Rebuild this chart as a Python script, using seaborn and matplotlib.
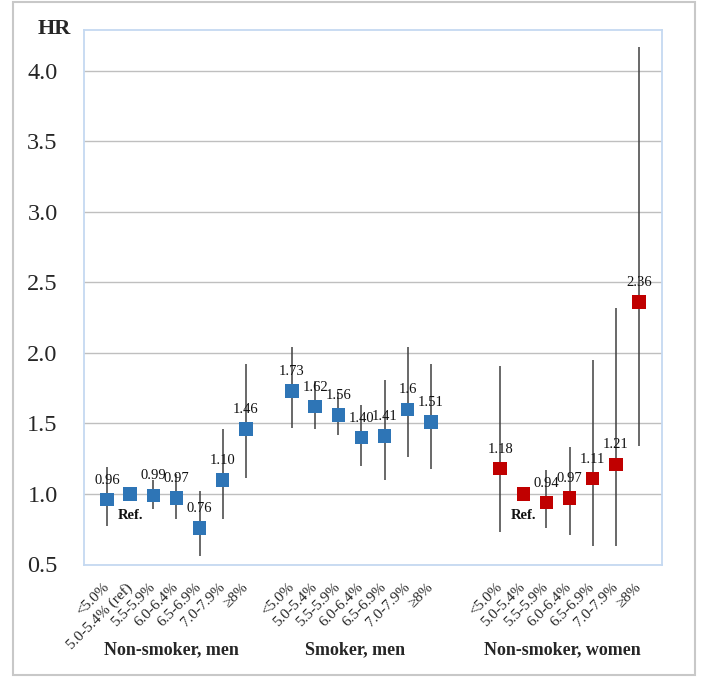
import matplotlib
matplotlib.use("Agg")
import matplotlib.pyplot as plt
import seaborn as sns
import pandas as pd
import numpy as np
from matplotlib.patches import Rectangle

# ---- data ----
group_names = ["Non-smoker, men", "Smoker, men", "Non-smoker, women"]
cats_nsm = ["<5.0%", "5.0-5.4% (ref)", "5.5-5.9%", "6.0-6.4%", "6.5-6.9%", "7.0-7.9%", "≥8%"]
cats_sm = ["<5.0%", "5.0-5.4%", "5.5-5.9%", "6.0-6.4%", "6.5-6.9%", "7.0-7.9%", "≥8%"]
cats_nsw = ["<5.0%", "5.0-5.4%", "5.5-5.9%", "6.0-6.4%", "6.5-6.9%", "7.0-7.9%", "≥8%"]

hr_nsm = [0.96, 1.00, 0.99, 0.97, 0.76, 1.10, 1.46]
lo_nsm = [0.77, np.nan, 0.89, 0.82, 0.56, 0.82, 1.11]
hi_nsm = [1.19, np.nan, 1.10, 1.14, 1.02, 1.46, 1.92]
lab_nsm = ["0.96", "", "0.99", "0.97", "0.76", "1.10", "1.46"]

hr_sm = [1.73, 1.62, 1.56, 1.40, 1.41, 1.60, 1.51]
lo_sm = [1.47, 1.46, 1.42, 1.20, 1.10, 1.26, 1.18]
hi_sm = [2.04, 1.80, 1.72, 1.63, 1.81, 2.04, 1.92]
lab_sm = ["1.73", "1.62", "1.56", "1.40", "1.41", "1.6", "1.51"]

hr_nsw = [1.18, 1.00, 0.94, 0.97, 1.11, 1.21, 2.36]
lo_nsw = [0.73, np.nan, 0.76, 0.71, 0.63, 0.63, 1.34]
hi_nsw = [1.91, np.nan, 1.17, 1.33, 1.95, 2.32, 4.17]
lab_nsw = ["1.18", "", "0.94", "0.97", "1.11", "1.21", "2.36"]

yticks = [0.5, 1.0, 1.5, 2.0, 2.5, 3.0, 3.5, 4.0]

# ---- layout ----
group_start = [0, 8, 17]
group_colors = {"Non-smoker, men": "#2E75B6", "Smoker, men": "#2E75B6", "Non-smoker, women": "#C00000"}

rows = []
for g, start, cats, hr, lo, hi, lab in zip(
        group_names, group_start,
        [cats_nsm, cats_sm, cats_nsw],
        [hr_nsm, hr_sm, hr_nsw],
        [lo_nsm, lo_sm, lo_nsw],
        [hi_nsm, hi_sm, hi_nsw],
        [lab_nsm, lab_sm, lab_nsw]):
    for i, c in enumerate(cats):
        rows.append(dict(group=g, cat=c, pos=start + i, hr=hr[i], lo=lo[i], hi=hi[i], lab=lab[i]))
df = pd.DataFrame(rows)

sns.set_style("white")
plt.rcParams["font.family"] = ["Liberation Serif", "DejaVu Serif"]

fig = plt.figure(figsize=(7.22, 6.82), dpi=100)
ax = fig.add_axes([84 / 722, 1 - 564.5 / 682, (662 - 84) / 722, (564.5 - 30) / 682])

# error bars
ci = df.dropna(subset=["lo"])
ax.vlines(ci["pos"], ci["lo"], ci["hi"], color="#404040", lw=1.1, zorder=2)

# markers
sns.scatterplot(data=df, x="pos", y="hr", hue="group", palette=group_colors,
                marker="s", s=95, linewidth=0, legend=False, ax=ax, zorder=3)

# value labels
for _, r in df.iterrows():
    if r["lab"]:
        ax.annotate(r["lab"], (r["pos"], r["hr"]), xytext=(0, 14), textcoords="offset points",
                    ha="center", va="center", fontsize=10.5, color="#111111", zorder=4)
    else:
        ax.annotate("Ref.", (r["pos"], r["hr"]), xytext=(0, -15.5), textcoords="offset points",
                    ha="center", va="center", fontsize=10.5, fontweight="bold", color="#111111", zorder=4)

ax.set_xlim(-1, 24)
ax.set_ylim(0.5, 4.29)
ax.set_yticks(yticks)
ax.set_yticklabels([f"{v:.1f}" for v in yticks], fontsize=17.5)
ax.set_xticks(df["pos"])
ax.set_xticklabels(df["cat"], rotation=45, ha="right", va="center", rotation_mode="anchor", fontsize=11)
ax.tick_params(axis="y", length=0, pad=19)
ax.tick_params(axis="x", length=0, pad=15)
ax.set_xlabel("")
ax.set_ylabel("")
ax.yaxis.grid(True, color="#BFBFBF", lw=1.0)
ax.xaxis.grid(False)
ax.set_axisbelow(True)
for s in ax.spines.values():
    s.set_visible(True)
    s.set_color("#C5D9F1")
    s.set_linewidth(1.3)

# group labels
for name, xc in zip(group_names, [171, 355, 562]):
    fig.text(xc / 722, 1 - 650 / 682, name, ha="center", va="center", fontsize=13, fontweight="bold")

fig.text(54 / 722, 1 - 29 / 682, "HR", ha="center", va="center", fontsize=16, fontweight="bold")

fig.patches.append(Rectangle((13 / 722, 1 - 675 / 682), (695 - 13) / 722, (675 - 1.5) / 682,
                             transform=fig.transFigure, fill=False, edgecolor="#C8C8C8", lw=1.5))

fig.savefig("out.png", dpi=100)
